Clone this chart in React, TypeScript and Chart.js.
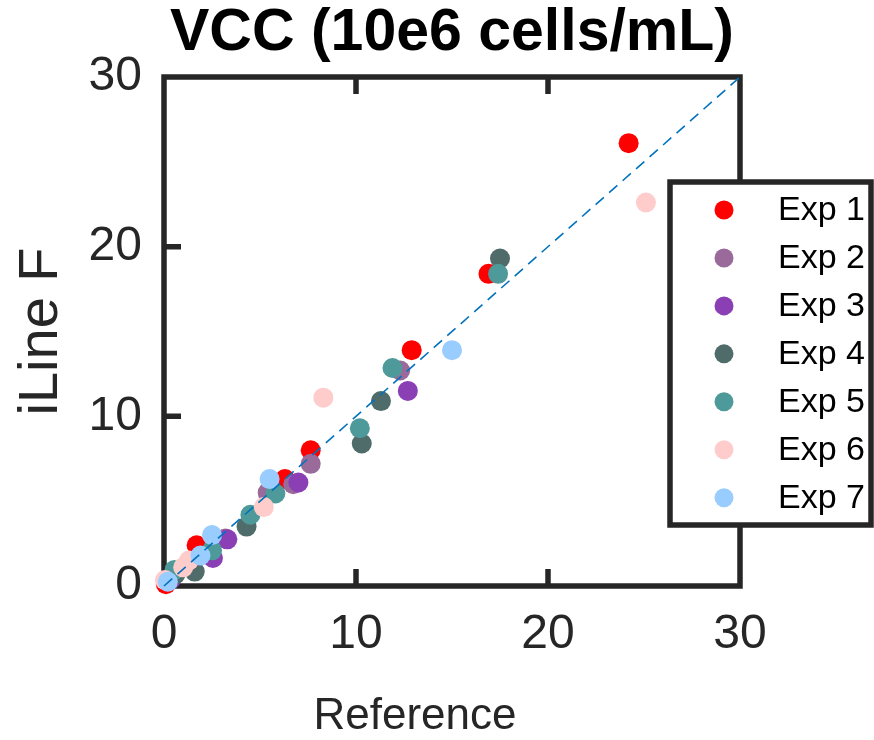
import React, { useEffect, useRef } from 'react';
import { Chart, registerables } from 'chart.js';

Chart.register(...registerables);

const FONT = '"Liberation Sans", Arial, Helvetica, sans-serif';

const titleText = 'VCC (10e6 cells/mL)';
const xAxisLabel = 'Reference';
const yAxisLabel = 'iLine F';
const axisMin = 0;
const axisMax = 30;
const tickStep = 10;
const innerTicks = [10, 20];
const identityLine = [0, 30];

const expLabels = ['Exp 1', 'Exp 2', 'Exp 3', 'Exp 4', 'Exp 5', 'Exp 6', 'Exp 7'];
const expColors = ['#ff0000', '#9a6a9a', '#8a3fb5', '#4f6b6a', '#4e9a9a', '#ffcccc', '#99ccff'];

const exp1X = [24.2, 16.9, 12.9, 7.64, 6.3, 1.7, 0.1];
const exp1Y = [26.1, 18.4, 13.9, 8.0, 6.3, 2.4, 0.1];

const exp2X = [12.3, 7.64, 6.73, 5.4, 3.2, 2.45, 0.3];
const exp2Y = [12.7, 7.2, 6.0, 5.5, 2.8, 1.95, 0.35];

const exp3X = [12.7, 7.0, 3.3, 2.55, 0.4];
const exp3Y = [11.5, 6.1, 2.75, 1.65, 0.45];

const exp4X = [17.5, 11.3, 10.3, 4.3, 1.6, 0.6];
const exp4Y = [19.3, 10.9, 8.4, 3.5, 0.85, 0.7];

const exp5X = [17.4, 11.9, 10.2, 5.8, 4.5, 2.5, 0.55];
const exp5Y = [18.4, 12.85, 9.3, 5.45, 4.2, 2.1, 0.95];

const exp6X = [25.1, 8.3, 5.2, 1.3, 1.0, 0.05];
const exp6Y = [22.6, 11.1, 4.65, 1.5, 1.1, 0.35];

const exp7X = [15.0, 5.5, 2.5, 1.9, 0.2];
const exp7Y = [13.9, 6.3, 3.0, 1.8, 0.25];

const expXs = [exp1X, exp2X, exp3X, exp4X, exp5X, exp6X, exp7X];
const expYs = [exp1Y, exp2Y, exp3Y, exp4Y, exp5Y, exp6Y, exp7Y];

const frameColor = '#262626';
const frameWidth = 5.5;
const tickLen = 17;

const framePlugin = {
  id: 'frame',
  beforeDatasetsDraw(chart: any) {
    const { ctx, chartArea } = chart;
    const xs = chart.scales.x;
    const ys = chart.scales.y;
    ctx.save();
    ctx.strokeStyle = frameColor;
    ctx.lineWidth = frameWidth;
    ctx.lineCap = 'butt';
    ctx.strokeRect(chartArea.left, chartArea.top, chartArea.right - chartArea.left, chartArea.bottom - chartArea.top);
    ctx.beginPath();
    innerTicks.forEach((v) => {
      const px = xs.getPixelForValue(v);
      ctx.moveTo(px, chartArea.bottom);
      ctx.lineTo(px, chartArea.bottom - tickLen);
      ctx.moveTo(px, chartArea.top);
      ctx.lineTo(px, chartArea.top + tickLen);
      const py = ys.getPixelForValue(v);
      ctx.moveTo(chartArea.left, py);
      ctx.lineTo(chartArea.left + tickLen, py);
      ctx.moveTo(chartArea.right, py);
      ctx.lineTo(chartArea.right - tickLen, py);
    });
    ctx.stroke();
    ctx.restore();
  },
};

const overlayPlugin = {
  id: 'overlay',
  afterDraw(chart: any) {
    const { ctx, chartArea } = chart;
    ctx.save();
    // x axis label
    ctx.fillStyle = frameColor;
    ctx.font = `44px ${FONT}`;
    ctx.textAlign = 'center';
    ctx.textBaseline = 'middle';
    ctx.fillText(xAxisLabel, chartArea.left + 251, 717);

    // legend
    const boxL = chartArea.right - 70;
    const boxT = 182;
    const boxW = 201;
    const boxH = 343;
    ctx.fillStyle = '#ffffff';
    ctx.fillRect(boxL, boxT, boxW, boxH);
    ctx.strokeStyle = frameColor;
    ctx.lineWidth = frameWidth;
    ctx.strokeRect(boxL, boxT, boxW, boxH);
    const ds = chart.data.datasets.filter((d: any) => expLabels.includes(d.label));
    ds.forEach((d: any, i: number) => {
      const cy = 210 + i * 47.95;
      ctx.beginPath();
      ctx.fillStyle = d.backgroundColor;
      ctx.arc(boxL + 54, cy, 9.5, 0, Math.PI * 2);
      ctx.fill();
      ctx.fillStyle = '#000000';
      ctx.font = `34px ${FONT}`;
      ctx.textAlign = 'left';
      ctx.textBaseline = 'middle';
      ctx.fillText(d.label, boxL + 108, cy + 1);
    });
    ctx.restore();
  },
};

export default function App() {
  const ref = useRef<HTMLCanvasElement | null>(null);

  useEffect(() => {
    if (!ref.current) return;
    const datasets: any[] = expLabels.map((label, k) => ({
      type: 'scatter',
      label,
      data: expXs[k].map((x, i) => ({ x, y: expYs[k][i] })),
      backgroundColor: expColors[k],
      borderColor: expColors[k],
      pointRadius: 10,
      pointBorderWidth: 0,
      pointHoverRadius: 10,
      clip: false,
      order: 10 - k,
    }));
    datasets.push({
      type: 'line',
      label: 'identity',
      data: identityLine.map((v) => ({ x: v, y: v })),
      borderColor: '#0072bd',
      borderWidth: 1.6,
      borderDash: [11, 7],
      pointRadius: 0,
      fill: false,
      clip: false,
      order: 0,
    });

    const chart = new Chart(ref.current, {
      type: 'scatter',
      data: { datasets },
      options: {
        animation: false,
        responsive: false,
        devicePixelRatio: 1,
        events: [],
        layout: { padding: { left: 0, top: 0, right: 134, bottom: 0 } },
        plugins: {
          legend: { display: false },
          tooltip: { enabled: false },
          title: {
            display: true,
            text: titleText,
            fullSize: false,
            color: '#000000',
            font: { size: 59, weight: 'bold', family: FONT, lineHeight: 1 },
            padding: { top: 4, bottom: 14 },
          },
        },
        scales: {
          x: {
            type: 'linear',
            position: 'bottom',
            min: axisMin,
            max: axisMax,
            grid: { display: false, drawTicks: false },
            border: { display: false },
            ticks: {
              stepSize: tickStep,
              padding: 20,
              color: frameColor,
              font: { size: 48, family: FONT },
            },
            afterFit: (s: any) => {
              s.height = 154;
            },
          },
          y: {
            type: 'linear',
            position: 'left',
            min: axisMin,
            max: axisMax,
            grid: { display: false, drawTicks: false },
            border: { display: false },
            ticks: {
              stepSize: tickStep,
              padding: 22,
              color: frameColor,
              font: { size: 48, family: FONT },
            },
            title: {
              display: true,
              text: yAxisLabel,
              color: frameColor,
              font: { size: 56, family: FONT },
              padding: { top: 8, bottom: 0 },
            },
            afterFit: (s: any) => {
              s.width = 164;
            },
          },
        },
      },
      plugins: [framePlugin, overlayPlugin],
    } as any);
    return () => chart.destroy();
  }, []);

  return (
    <div style={{ position: 'absolute', left: 0, top: 0, width: 874, height: 740, background: '#fff' }}>
      <canvas ref={ref} width={874} height={740} style={{ width: 874, height: 740, display: 'block' }} />
    </div>
  );
}
